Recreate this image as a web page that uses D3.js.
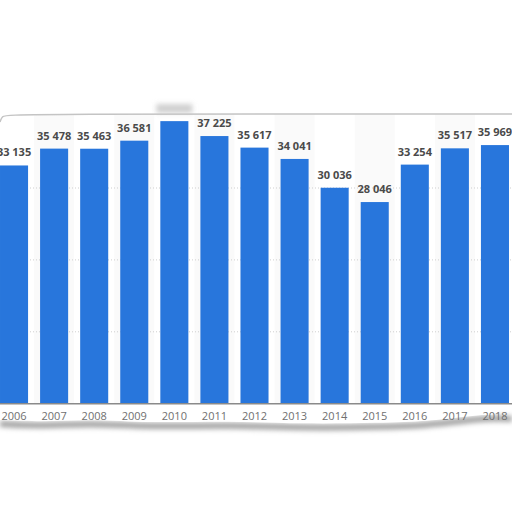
<!DOCTYPE html>
<html>
<head>
<meta charset="utf-8">
<script src="https://cdn.jsdelivr.net/npm/d3@7"></script>
<style>
  html, body { margin: 0; padding: 0; background: #fff; }
  svg { display: block; }
</style>
</head>
<body>
<div id="chart"></div>
<script>
'use strict';

// Values (2010 label is torn off)
const years = ['2006', '2007', '2008', '2009', '2010', '2011', '2012', '2013', '2014', '2015', '2016', '2017', '2018'];
const values = [33135, 35478, 35463, 36581, 39300, 37225, 35617, 34041, 30036, 28046, 33254, 35517, 35969];
const labelShown = [true, true, true, true, false, true, true, true, true, true, true, true, true];
const gridTicks = [10000, 20000, 30000];

const W = 512, H = 512;
const baseY = 403.7, topY = 116.1;
const barColor = '#2876dc';

const svg = d3.select('#chart')
    .append('svg')
    .attr('width', W)
    .attr('height', H);

const defs = svg.append('defs');
defs.append('filter').attr('id', 'blur')
    .attr('x', '-20%').attr('y', '-100%').attr('width', '140%').attr('height', '300%')
    .append('feGaussianBlur').attr('stdDeviation', 2.5);
defs.append('filter').attr('id', 'blurSoft')
    .append('feGaussianBlur').attr('stdDeviation', 0.6);
defs.append('clipPath').attr('id', 'frame')
    .append('rect').attr('x', 0).attr('y', 114).attr('width', W).attr('height', 320);

const xScale = d3.scaleBand()
    .domain(years)
    .range([-6, 515])
    .paddingInner(0.3)
    .paddingOuter(0.15);

const yScale = d3.scaleLinear()
    .domain([0, 40000])
    .range([baseY, topY]);

// torn-paper shadow along the bottom edge
const bottomEdge = [[0, 424], [40, 426], [90, 423], [150, 427], [230, 425], [300, 428], [380, 427], [430, 425], [460, 421], [490, 418], [512, 419]];
svg.append('path')
    .attr('d', d3.line().curve(d3.curveBasis)(bottomEdge))
    .attr('fill', 'none')
    .attr('stroke', '#a0a0a0')
    .attr('stroke-width', 6)
    .attr('filter', 'url(#blur)');

// white paper
svg.append('path')
    .attr('d', d3.line().curve(d3.curveBasis)([[0, 122], [2, 116], [8, 114], [512, 114]].concat(bottomEdge.slice().reverse().map(p => [p[0], p[1] - 4]))) + 'Z')
    .attr('fill', '#fff');

// blurred stub of the torn label above 2010
svg.append('rect')
    .attr('x', xScale('2010') - 4)
    .attr('y', 104)
    .attr('width', xScale.bandwidth() + 8)
    .attr('height', 9)
    .attr('fill', '#d0d0d0')
    .attr('filter', 'url(#blur)');

const chart = svg.append('g').attr('clip-path', 'url(#frame)');

// alternating column backgrounds
chart.selectAll('rect.band')
    .data(years.filter((d, i) => i % 2 === 1))
    .join('rect')
    .attr('class', 'band')
    .attr('x', d => xScale(d) - xScale.step() * 0.15)
    .attr('y', 114)
    .attr('width', xScale.step())
    .attr('height', baseY - 114)
    .attr('fill', '#fafafa');

// grid lines
chart.selectAll('line.grid')
    .data(gridTicks)
    .join('line')
    .attr('class', 'grid')
    .attr('x1', 0).attr('x2', W)
    .attr('y1', d => yScale(d)).attr('y2', d => yScale(d))
    .attr('stroke', '#cfcfcf')
    .attr('stroke-width', 1)
    .attr('stroke-dasharray', '1,2');

chart.selectAll('rect.bar')
    .data(values)
    .join('rect')
    .attr('class', 'bar')
    .attr('x', (d, i) => xScale(years[i]))
    .attr('y', d => yScale(d))
    .attr('width', xScale.bandwidth())
    .attr('height', d => baseY - yScale(d))
    .attr('fill', barColor);

chart.selectAll('text.value')
    .data(values)
    .join('text')
    .attr('class', 'value')
    .attr('x', (d, i) => xScale(years[i]) + xScale.bandwidth() / 2)
    .attr('y', d => yScale(d) - 9)
    .attr('text-anchor', 'middle')
    .style('font', 'bold 11px "Open Sans", sans-serif')
    .attr('fill', '#4a4a4a')
    .text((d, i) => labelShown[i] ? d3.format(',')(d).replace(',', ' ') : '');

// x axis
const xAxis = svg.append('g')
    .attr('transform', `translate(0,${baseY})`)
    .call(d3.axisBottom(xScale).tickSize(0).tickPadding(9));
xAxis.select('.domain')
    .attr('d', `M0,0H${W}`)
    .attr('stroke', '#8a8a8a')
    .attr('stroke-width', 1.5);
xAxis.selectAll('text')
    .style('font', '11px "Open Sans", sans-serif')
    .attr('fill', '#707070');

// top torn edge line
svg.append('path')
    .attr('d', d3.line().curve(d3.curveBasis)([[0, 122], [2, 116], [8, 114], [512, 114]]))
    .attr('fill', 'none')
    .attr('stroke', '#c4c4c4')
    .attr('stroke-width', 1.5)
    .attr('filter', 'url(#blurSoft)');
</script>
</body>
</html>
